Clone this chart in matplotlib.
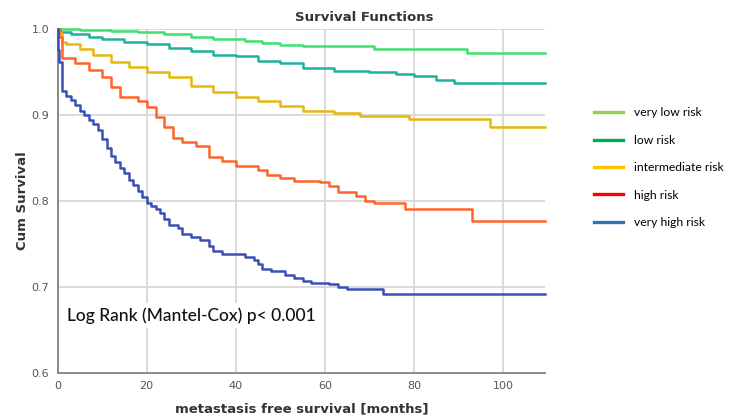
import numpy as np
import matplotlib.pyplot as plt
from matplotlib.lines import Line2D

# Kaplan-Meier step points (months, cumulative survival)
t_vlow = [0, 5, 12, 18, 24, 30, 35, 42, 46, 50, 55, 71, 92, 109.5]
s_vlow = [1.0, 0.999, 0.998, 0.996, 0.994, 0.991, 0.988, 0.986, 0.983, 0.981, 0.980, 0.976, 0.972, 0.972]

t_low = [0, 0.5, 3, 7, 10, 15, 20, 25, 30, 35, 40, 45, 50, 55, 62, 70, 76, 80, 85, 89, 109.5]
s_low = [1.0, 0.996, 0.994, 0.991, 0.988, 0.985, 0.982, 0.978, 0.974, 0.970, 0.968, 0.963,
         0.960, 0.954, 0.951, 0.950, 0.947, 0.945, 0.941, 0.937, 0.937]

t_int = [0, 0.3, 1, 2, 5, 8, 12, 16, 20, 25, 30, 35, 40, 45, 50, 55, 62, 68, 79, 97, 109.5]
s_int = [1.0, 0.995, 0.985, 0.982, 0.976, 0.970, 0.962, 0.956, 0.950, 0.944, 0.933, 0.926,
         0.921, 0.916, 0.910, 0.905, 0.902, 0.899, 0.895, 0.886, 0.886]

t_high = [0, 0.3, 1, 4, 7, 10, 12, 14, 18, 20, 22, 24, 26, 28, 31, 34, 37, 40, 45, 47, 50,
          53, 59, 61, 63, 67, 69, 71, 78, 93, 109.5]
s_high = [1.0, 0.99, 0.966, 0.960, 0.952, 0.944, 0.932, 0.921, 0.916, 0.909, 0.898, 0.886,
          0.873, 0.869, 0.864, 0.851, 0.846, 0.841, 0.836, 0.830, 0.826, 0.823, 0.822, 0.817,
          0.810, 0.806, 0.800, 0.797, 0.790, 0.776, 0.776]

t_vhigh = [0, 0.1, 0.3, 1, 2, 3, 4, 5, 6, 7, 8, 9, 10, 11, 12, 13, 14, 15, 16, 17, 18, 19, 20,
           21, 22, 23, 24, 25, 27, 28, 30, 32, 34, 35, 37, 42, 44, 45, 46, 48, 51, 53, 55, 57,
           61, 63, 65, 73, 109.5]
s_vhigh = [1.0, 0.975, 0.962, 0.928, 0.922, 0.917, 0.912, 0.905, 0.900, 0.894, 0.889, 0.882,
           0.872, 0.862, 0.852, 0.845, 0.838, 0.832, 0.824, 0.818, 0.812, 0.805, 0.798, 0.794,
           0.790, 0.786, 0.779, 0.772, 0.768, 0.762, 0.758, 0.754, 0.748, 0.742, 0.738, 0.735,
           0.731, 0.727, 0.721, 0.718, 0.714, 0.710, 0.707, 0.705, 0.703, 0.700, 0.698, 0.692,
           0.692]

groups = ["very low risk", "low risk", "intermediate risk", "high risk", "very high risk"]
line_colors = ["#3fe070", "#1fb0a0", "#e6b80c", "#ff6428", "#3a50b4"]
legend_colors = ["#92d050", "#00b050", "#ffc000", "#ff0000", "#2e75b6"]

xticks = [0, 20, 40, 60, 80, 100]
yticks = [0.6, 0.7, 0.8, 0.9, 1.0]

curves = [(t_vlow, s_vlow), (t_low, s_low), (t_int, s_int), (t_high, s_high), (t_vhigh, s_vhigh)]

fig = plt.figure(figsize=(7.29, 4.18), dpi=100)
ax = fig.add_axes([0.079, 0.108, 0.669, 0.823])

for (t, s), c in zip(curves, line_colors):
    ax.step(t, s, where="post", color=c, lw=1.8, clip_on=False, zorder=3)

ax.set_xlim(0, 109.5)
ax.set_ylim(0.6, 1.0)
ax.set_xticks(xticks)
ax.set_yticks(yticks)
ax.set_yticklabels(["%.1f" % v for v in yticks])
ax.grid(True, color="#d4d4d4", lw=1.2)
ax.set_axisbelow(True)
for side in ["top", "right"]:
    ax.spines[side].set_visible(False)
for side in ["left", "bottom"]:
    ax.spines[side].set_color("#8a8a8a")
    ax.spines[side].set_linewidth(1.4)
ax.tick_params(length=0, labelsize=8, labelcolor="#555555", pad=6)

ax.set_xlabel("metastasis free survival [months]", fontsize=9.5, fontweight="bold",
              color="#333333", labelpad=8)
ax.set_ylabel("Cum Survival", fontsize=9.5, fontweight="bold", color="#333333", labelpad=2)
fig.text(0.5, 0.958, "Survival Functions", ha="center", va="center", fontsize=9.5,
         fontweight="bold", color="#333333")

ax.text(2.2, 0.667, "Log Rank (Mantel-Cox) p< 0.001", family="Lato", fontweight="medium",
        fontsize=12.5, color="#111111", ha="left", va="center", zorder=4,
        bbox=dict(facecolor="white", edgecolor="none", pad=3))

handles = [Line2D([], [], color=c, lw=2.4) for c in legend_colors]
fig.legend(handles, groups, loc="upper left", bbox_to_anchor=(0.815, 0.743), frameon=False,
           prop={"family": "Lato", "size": 8.7}, handlelength=2.4, handletextpad=0.9,
           labelspacing=1.36, borderpad=0, borderaxespad=0)

fig.savefig("out.png", dpi=100)
